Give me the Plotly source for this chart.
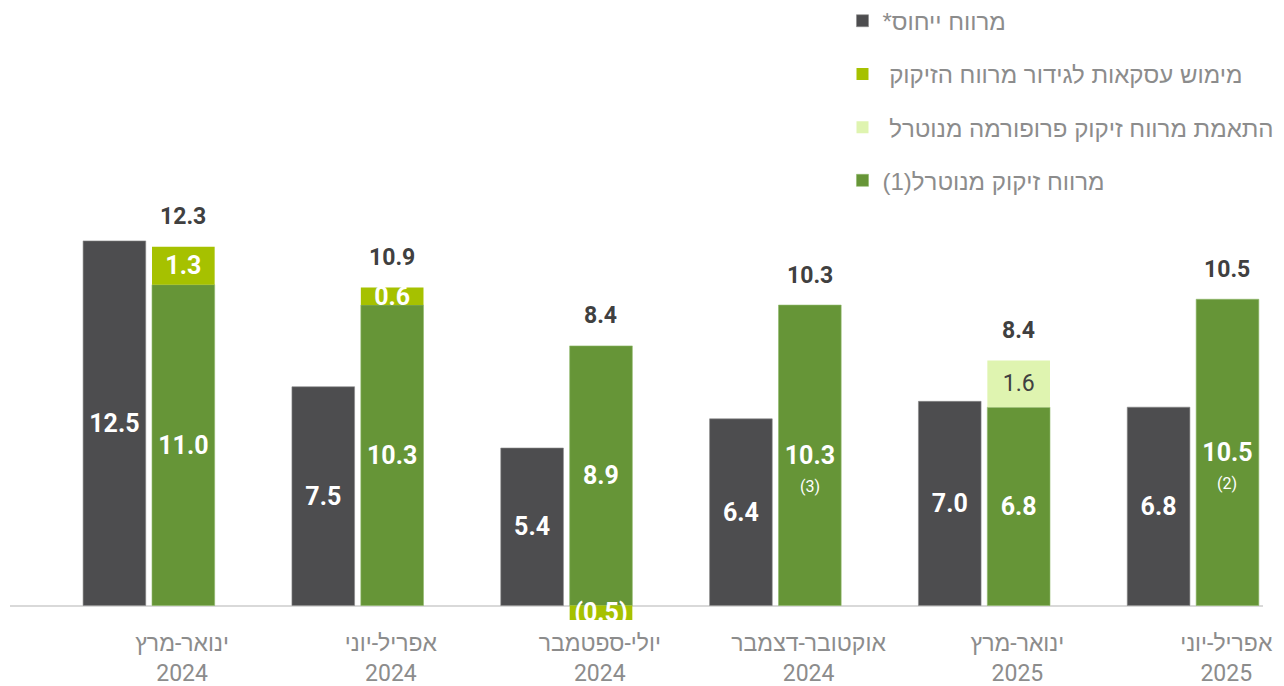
import plotly.graph_objects as go

# נתונים
quarters = ["ינואר-מרץ<br>2024", "אפריל-יוני<br>2024", "יולי-ספטמבר<br>2024",
            "אוקטובר-דצמבר<br>2024", "ינואר-מרץ<br>2025", "אפריל-יוני<br>2025"]
benchmark = [12.5, 7.5, 5.4, 6.4, 7.0, 6.8]
neutral = [11.0, 10.3, 8.9, 10.3, 6.8, 10.5]
hedging = [1.3, 0.6, -0.5, None, None, None]
proforma = [None, None, None, None, 1.6, None]
footnotes = ["", "", "", "(3)", "", "(2)"]

names = ["מרווח ייחוס*\u200f",
         "\u00a0מימוש עסקאות לגידור מרווח הזיקוק",
         "\u00a0התאמת מרווח זיקוק פרופורמה מנוטרל",
         "מרווח זיקוק מנוטרל(1)\u200f"]

DARK = "#4d4d4f"
GREEN = "#669537"
LIME = "#a6c100"
LIGHT = "#dff4b0"

def fmt(v):
    if v is None:
        return ""
    return "(%.1f)" % abs(v) if v < 0 else "%.1f" % v

hedge_base = [n if (h is not None and h > 0) else 0 for n, h in zip(neutral, hedging)]
pro_base = [n + (h if h and h > 0 else 0) for n, h in zip(neutral, hedging)]
totals = [n + (h or 0) + (p or 0) for n, h, p in zip(neutral, hedging, proforma)]
tops = [n + (h if h and h > 0 else 0) + (p or 0) for n, h, p in zip(neutral, hedging, proforma)]

W_BAR = 0.3
OFF_DARK = -0.316
OFF_GREEN = 0.014
NUM_FONT = "Roboto, 'Liberation Sans', sans-serif"

fig = go.Figure()

fig.add_trace(go.Bar(
    x=quarters, y=benchmark, name=names[0], legendgroup="a", legendrank=1,
    marker=dict(color=DARK, line=dict(color="#8a8a8a", width=0.6)),
    width=W_BAR, offset=OFF_DARK,
    text=[fmt(v) for v in benchmark], textposition="inside", insidetextanchor="middle",
    textangle=0, constraintext="none",
    textfont=dict(family=NUM_FONT, size=25, color="white", weight="bold"),
))

fig.add_trace(go.Bar(
    x=quarters, y=neutral, name=names[3], legendgroup="d", legendrank=4,
    marker=dict(color=GREEN, line=dict(color="#8fb86a", width=0.6)),
    width=W_BAR, offset=OFF_GREEN,
    text=[fmt(v) for v in neutral], textposition="inside", insidetextanchor="middle",
    textangle=0, constraintext="none",
    textfont=dict(family=NUM_FONT, size=25, color="white", weight="bold"),
))

fig.add_trace(go.Bar(
    x=quarters, y=hedging, base=hedge_base, name=names[1], legendgroup="b", legendrank=2,
    marker=dict(color=LIME, line=dict(width=0)),
    width=W_BAR, offset=OFF_GREEN,
    text=[fmt(v) for v in hedging], textposition="inside", insidetextanchor="middle",
    textangle=0, constraintext="none",
    textfont=dict(family=NUM_FONT, size=25, color="white", weight="bold"),
))

fig.add_trace(go.Bar(
    x=quarters, y=proforma, base=pro_base, name=names[2], legendgroup="c", legendrank=3,
    marker=dict(color=LIGHT, line=dict(width=0)),
    width=W_BAR, offset=OFF_GREEN,
    text=[fmt(v) for v in proforma], textposition="inside", insidetextanchor="middle",
    textangle=0, constraintext="none",
    textfont=dict(family=NUM_FONT, size=23, color="#404040"),
))

# סכומים מעל העמודות
for q, t, top in zip(quarters, totals, tops):
    fig.add_annotation(x=q, y=top, text="<b>%.1f</b>" % t, showarrow=False,
                       xshift=34, yshift=30, yanchor="middle",
                       font=dict(family=NUM_FONT, size=23, color="#404040"))

# הערות שוליים
for q, n, f in zip(quarters, neutral, footnotes):
    if f:
        fig.add_annotation(x=q, y=n / 2, text=f, showarrow=False,
                           xshift=34, yshift=-31, yanchor="middle",
                           font=dict(family=NUM_FONT, size=16, color="white"))

fig.update_layout(
    width=1284, height=686,
    barmode="overlay",
    plot_bgcolor="white", paper_bgcolor="white",
    margin=dict(l=2, r=29, t=160, b=67, autoexpand=False),
    legend=dict(x=0.6644, y=1.369, xanchor="left", yanchor="top",
                tracegroupgap=19, bgcolor="rgba(0,0,0,0)",
                font=dict(family="'Liberation Sans', sans-serif", size=24, color="#8c8c8c")),
    showlegend=True,
)

fig.update_xaxes(range=[-0.666, 5.334], showgrid=False, showline=False, ticks="",
                 automargin=False, ticklabelshift=33,
                 tickfont=dict(family="Roboto, 'Liberation Sans', sans-serif", size=23, color="#8c8c8c"))
fig.update_yaxes(range=[-0.737, 15], showgrid=False, showticklabels=False, automargin=False,
                 zeroline=True, zerolinecolor="#d9d9d9", zerolinewidth=2)

fig.write_html("out.html")
